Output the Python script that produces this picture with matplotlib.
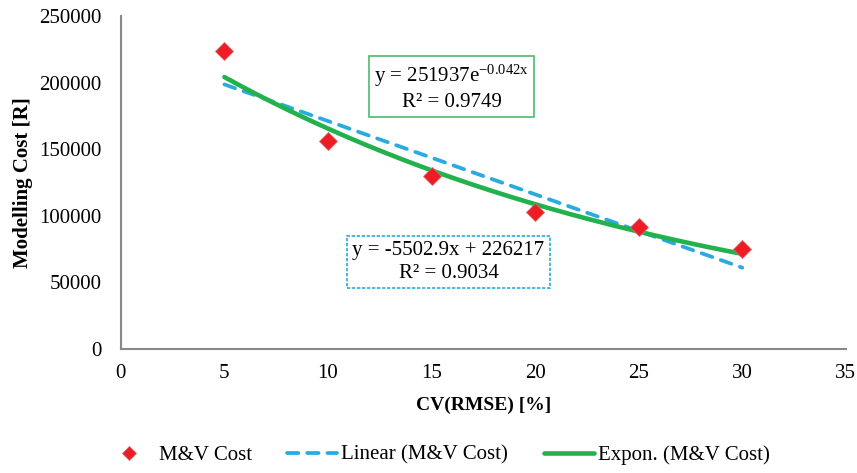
import numpy as np
import matplotlib.pyplot as plt

plt.rcParams['font.family'] = ['Liberation Serif', 'DejaVu Serif']
plt.rcParams['mathtext.fontset'] = 'custom'
plt.rcParams['mathtext.rm'] = 'Liberation Serif'
plt.rcParams['mathtext.it'] = 'Liberation Serif:italic'

cv_rmse = [5, 10, 15, 20, 25, 30]
mv_cost = [224000, 156000, 130000, 103000, 92000, 75000]

# trendline coefficients
lin_slope, lin_icept, lin_r2 = -5502.9, 226217, 0.9034
exp_a, exp_b, exp_r2 = 251937, -0.042, 0.9749

fig = plt.figure(figsize=(8.57, 4.73), dpi=100)
ax = fig.add_axes([0.141, 0.262, 0.846, 0.704])

xs = np.linspace(min(cv_rmse), max(cv_rmse), 200)
ax.plot(xs, lin_slope * xs + lin_icept, color='#29aae1', lw=2.7,
        ls=(0, (3, 2.4)), dash_capstyle='round', label='Linear (M&V Cost)', zorder=2)
ax.plot(xs, exp_a * np.exp(exp_b * xs), color='#22b14c', lw=3.3,
        solid_capstyle='round', label='Expon. (M&V Cost)', zorder=3)
ax.plot(cv_rmse, mv_cost, ls='none', marker='D', ms=9, color='#ee1c24',
        mec='#d46a6a', mew=0.6, label='M&V Cost', zorder=4)

ax.set_xlim(0, 35)
ax.set_ylim(0, 250000)
ax.set_xticks(range(0, 36, 5))
ax.set_yticks(range(0, 250001, 50000))
ax.tick_params(axis='y', length=0, labelsize=15, pad=14)
ax.tick_params(axis='x', length=0, labelsize=15, pad=11)
for s in ['top', 'right']:
    ax.spines[s].set_visible(False)
for s in ['left', 'bottom']:
    ax.spines[s].set_color('#888888')
    ax.spines[s].set_linewidth(1.5)

ax.set_xlabel('CV(RMSE) [%]', fontsize=14, fontweight='bold', va='center')
ax.set_ylabel('Modelling Cost [R]', fontsize=15, fontweight='bold', va='center')
ax.xaxis.set_label_coords(0.5, -0.168)
ax.yaxis.set_label_coords(-0.135, 0.5)

ax.text(0.456, 0.786, 'y = %de$^{%.3f\\mathrm{x}}$\nR² = %.4f' % (exp_a, exp_b, exp_r2),
        transform=ax.transAxes, ha='center', va='center', fontsize=15,
        linespacing=1.25,
        bbox=dict(boxstyle='square,pad=0.25', fc='white', ec='#4cbb6c', lw=1.2))
ax.text(0.452, 0.262, 'y = %.1fx + %d\nR² = %.4f' % (lin_slope, lin_icept, lin_r2),
        transform=ax.transAxes, ha='center', va='center', fontsize=15,
        linespacing=1.25,
        bbox=dict(boxstyle='square,pad=0.25', fc='white', ec='#29aae1', lw=1.2, ls=(0, (2, 1))))

h, l = ax.get_legend_handles_labels()
order = [2, 0, 1]
fig.legend([h[i] for i in order], [l[i] for i in order], loc='center',
           bbox_to_anchor=(0.51, 0.038), ncol=3, frameon=False, fontsize=15,
           handlelength=2.4, columnspacing=1.7, handletextpad=0.2, markerscale=0.75)

fig.savefig('out.png', dpi=100)
